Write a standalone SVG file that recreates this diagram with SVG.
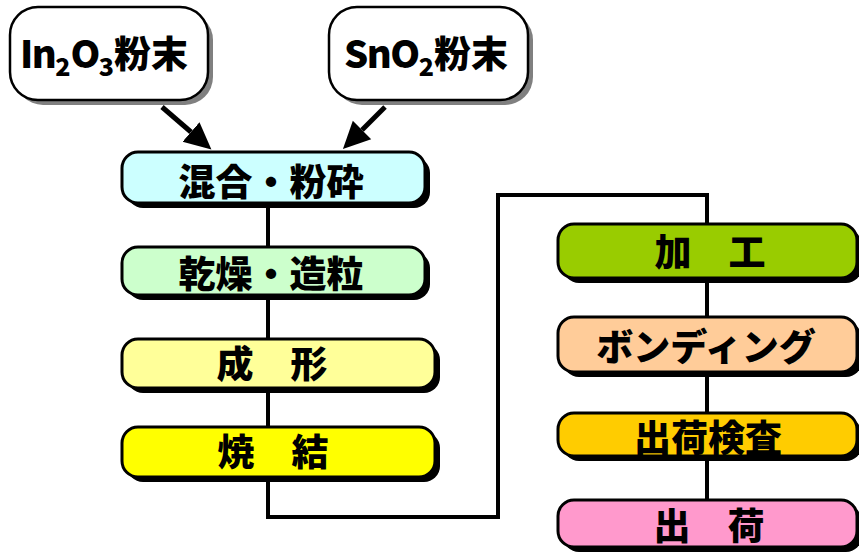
<svg xmlns="http://www.w3.org/2000/svg" width="859" height="552" viewBox="0 0 859 552">
<defs>
<style>
.lbl{font-family:"Noto Sans CJK JP","Noto Sans CJK SC",sans-serif;font-weight:900;font-size:37px;fill:#000;text-anchor:middle}
.lat{font-size:38px;letter-spacing:-1.5px}
.sub{font-size:25px}
.box{stroke:#000;stroke-width:3}
.top{fill:#fff;stroke:#000;stroke-width:2.5}
.shd{fill:#000}
.gshd{fill:#808080}
.wire{fill:none;stroke:#000;stroke-width:4}
.arr{stroke:#000;stroke-width:5;fill:none}
</style>
<marker id="ah" markerUnits="userSpaceOnUse" markerWidth="28" markerHeight="28" viewBox="0 -13 27 26" refX="0" refY="0" orient="auto">
<path d="M0,-12.5 L26,0 L0,12.5 z" fill="#000"/>
</marker>
</defs>
<rect width="859" height="552" fill="#fff"/>
<g id="connectors">
<polyline class="wire" points="268,203 268,517 498,517 498,195 707,195 707,500"/>
<line class="arr" x1="162" y1="107" x2="191" y2="132" marker-end="url(#ah)"/>
<line class="arr" x1="385" y1="107" x2="362" y2="130" marker-end="url(#ah)"/>
</g>
<g id="in2o3">
<rect class="gshd" x="15" y="12" width="198" height="93" rx="28"/>
<rect class="top" x="10" y="7" width="198" height="93" rx="28"/>
<text class="lbl" x="104" y="68"><tspan class="lat">In</tspan><tspan class="sub" dy="8">2</tspan><tspan class="lat" dy="-8">O</tspan><tspan class="sub" dy="8">3</tspan><tspan dy="-8">粉末</tspan></text>
</g>
<g id="sno2">
<rect class="gshd" x="334" y="12" width="199" height="93" rx="28"/>
<rect class="top" x="329" y="7" width="199" height="93" rx="28"/>
<text class="lbl" x="426" y="68"><tspan class="lat">SnO</tspan><tspan class="sub" dy="8">2</tspan><tspan dy="-8">粉末</tspan></text>
</g>
<g id="mix">
<rect class="shd" x="127" y="157" width="303" height="51" rx="16"/>
<rect class="box" x="122" y="152" width="303" height="51" rx="16" fill="#CCFFFF"/>
<text class="lbl" x="271" y="196">混合・粉砕</text>
</g>
<g id="dry">
<rect class="shd" x="127" y="252" width="303" height="48" rx="16"/>
<rect class="box" x="122" y="247" width="303" height="48" rx="16" fill="#CCFFCC"/>
<text class="lbl" x="271" y="288">乾燥・造粒</text>
</g>
<g id="form">
<rect class="shd" x="127" y="344" width="313" height="49" rx="16"/>
<rect class="box" x="122" y="339" width="313" height="49" rx="16" fill="#FFFF99"/>
<text class="lbl" x="272" y="378">成　形</text>
</g>
<g id="sinter">
<rect class="shd" x="127" y="432" width="313" height="50" rx="16"/>
<rect class="box" x="122" y="427" width="313" height="50" rx="16" fill="#FFFF00"/>
<text class="lbl" x="273" y="466">焼　結</text>
</g>
<g id="process">
<rect class="shd" x="563" y="229" width="299" height="54" rx="16"/>
<rect class="box" x="558" y="224" width="299" height="54" rx="16" fill="#99CC00"/>
<text class="lbl" x="710" y="266">加　工</text>
</g>
<g id="bonding">
<rect class="shd" x="563" y="322" width="299" height="55" rx="16"/>
<rect class="box" x="558" y="317" width="299" height="55" rx="16" fill="#FFCC99"/>
<text class="lbl" x="706" y="361">ボンディング</text>
</g>
<g id="inspect">
<rect class="shd" x="563" y="418" width="299" height="43" rx="16"/>
<rect class="box" x="558" y="413" width="299" height="43" rx="16" fill="#FFCC00"/>
<text class="lbl" x="708" y="452">出荷検査</text>
</g>
<g id="ship">
<rect class="shd" x="563" y="505" width="299" height="47" rx="16"/>
<rect class="box" x="558" y="500" width="299" height="47" rx="16" fill="#FF99CC"/>
<text class="lbl" x="709" y="540">出　荷</text>
</g>
</svg>
